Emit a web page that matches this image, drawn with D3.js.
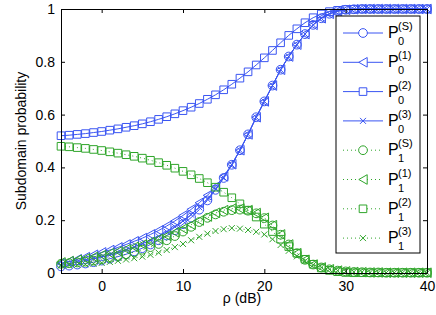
<!DOCTYPE html>
<html>
<head>
<meta charset="utf-8">
<script src="https://cdn.jsdelivr.net/npm/d3@7"></script>
<style>
  body { margin: 0; background: #fff; }
  text { font-family: "Liberation Sans", Arial, sans-serif; fill: #000; }
</style>
</head>
<body>
<svg id="chart" width="436" height="315"></svg>
<script>
// SNR values (dB)
const rho = d3.range(-5, 41, 1);

// P0 curves (blue, solid)
const p0S = [0.025,0.028,0.032,0.036,0.041,0.047,0.054,0.062,0.071,0.082,0.094,0.108,0.124,0.142,0.162,0.185,0.21,0.24,0.275,0.315,0.36,0.41,0.465,0.525,0.59,0.65,0.71,0.77,0.82,0.865,0.905,0.94,0.965,0.982,0.992,0.997,0.999,1,1,1,1,1,1,1,1,1];
const p01 = [0.036,0.044,0.052,0.06,0.069,0.078,0.087,0.097,0.108,0.12,0.132,0.146,0.161,0.178,0.197,0.218,0.241,0.266,0.294,0.327,0.366,0.412,0.465,0.525,0.59,0.65,0.71,0.77,0.82,0.865,0.905,0.94,0.965,0.982,0.992,0.997,0.999,1,1,1,1,1,1,1,1,1];
const p02 = [0.52,0.522,0.525,0.528,0.532,0.536,0.541,0.546,0.552,0.558,0.565,0.573,0.582,0.592,0.603,0.615,0.628,0.642,0.658,0.675,0.694,0.715,0.738,0.762,0.788,0.815,0.843,0.872,0.9,0.925,0.948,0.967,0.981,0.99,0.995,0.998,0.999,1,1,1,1,1,1,1,1,1];
const p03 = [0.03,0.035,0.041,0.047,0.054,0.061,0.069,0.078,0.088,0.099,0.111,0.124,0.139,0.156,0.175,0.197,0.221,0.249,0.28,0.318,0.361,0.41,0.465,0.525,0.59,0.65,0.71,0.77,0.82,0.865,0.905,0.94,0.965,0.982,0.992,0.997,0.999,1,1,1,1,1,1,1,1,1];

// P1 curves (green, dotted)
const p1S = [0.035,0.037,0.04,0.043,0.047,0.052,0.058,0.064,0.071,0.079,0.088,0.098,0.11,0.124,0.14,0.157,0.175,0.193,0.209,0.222,0.232,0.238,0.24,0.236,0.226,0.208,0.18,0.145,0.108,0.075,0.05,0.032,0.021,0.014,0.009,0.006,0.004,0.003,0.002,0.002,0.001,0.001,0.001,0.001,0.001,0.001];
const p11 = [0.04,0.045,0.05,0.055,0.061,0.068,0.075,0.082,0.09,0.099,0.108,0.118,0.129,0.141,0.154,0.168,0.183,0.199,0.214,0.228,0.238,0.244,0.244,0.238,0.227,0.209,0.181,0.146,0.108,0.075,0.05,0.032,0.021,0.014,0.009,0.006,0.004,0.003,0.002,0.002,0.001,0.001,0.001,0.001,0.001,0.001];
const p12 = [0.48,0.478,0.475,0.472,0.468,0.464,0.459,0.454,0.448,0.442,0.435,0.427,0.418,0.408,0.397,0.385,0.372,0.358,0.342,0.325,0.306,0.285,0.262,0.238,0.212,0.185,0.157,0.128,0.1,0.075,0.052,0.033,0.019,0.01,0.005,0.002,0.001,0.001,0.001,0.001,0.001,0.001,0.001,0.001,0.001,0.001];
const p13 = [0.028,0.029,0.031,0.033,0.035,0.038,0.042,0.046,0.051,0.056,0.062,0.069,0.077,0.087,0.098,0.11,0.124,0.137,0.149,0.159,0.166,0.17,0.168,0.163,0.156,0.146,0.128,0.106,0.084,0.063,0.045,0.031,0.021,0.014,0.009,0.006,0.004,0.003,0.002,0.002,0.001,0.001,0.001,0.001,0.001,0.001];

const xTicks = [0, 10, 20, 30, 40];
const yTicks = [0, 0.2, 0.4, 0.6, 0.8, 1];

const blue = "#3a55f2";
const green = "#2fa52a";

const series = [
  { sub: "0", sup: "(S)", vals: p0S, color: blue, marker: "circle", dash: null },
  { sub: "0", sup: "(1)", vals: p01, color: blue, marker: "triangle", dash: null },
  { sub: "0", sup: "(2)", vals: p02, color: blue, marker: "square", dash: null },
  { sub: "0", sup: "(3)", vals: p03, color: blue, marker: "cross", dash: null },
  { sub: "1", sup: "(S)", vals: p1S, color: green, marker: "circle", dash: "1,3" },
  { sub: "1", sup: "(1)", vals: p11, color: green, marker: "triangle", dash: "1,3" },
  { sub: "1", sup: "(2)", vals: p12, color: green, marker: "square", dash: "1,3" },
  { sub: "1", sup: "(3)", vals: p13, color: green, marker: "cross", dash: "1,3" }
];

const svg = d3.select("#chart");
const plotL = 61, plotR = 427, plotT = 9, plotB = 273;

const x = d3.scaleLinear().domain([-5, 40]).range([plotL, plotR]);
const y = d3.scaleLinear().domain([0, 1]).range([plotB, plotT]);

// markers drawn as paths centred on (0,0)
function markerPath(type) {
  if (type === "circle") return d3.symbol().type(d3.symbolCircle).size(60)();
  if (type === "square") return "M-3.8,-3.8H3.8V3.8H-3.8Z";
  if (type === "triangle") return "M-4.2,0L4.2,-4.8L4.2,4.8Z";
  return "M-3,-3L3,3M-3,3L3,-3";
}

const line = d3.line().x((d, i) => x(rho[i])).y(d => y(d));

series.forEach(s => {
  const g = svg.append("g");
  g.append("path")
    .attr("d", line(s.vals))
    .attr("fill", "none")
    .attr("stroke", s.color)
    .attr("stroke-width", 1)
    .attr("stroke-dasharray", s.dash);
  g.selectAll("path.m")
    .data(s.vals)
    .enter()
    .append("path")
    .attr("class", "m")
    .attr("d", markerPath(s.marker))
    .attr("transform", (d, i) => `translate(${x(rho[i])},${y(d)})`)
    .attr("fill", "none")
    .attr("stroke", s.color)
    .attr("stroke-width", 1);
});

// axes (MATLAB style box, inward ticks)
svg.append("g").attr("transform", `translate(0,${plotB})`)
  .call(d3.axisBottom(x).tickValues(xTicks).tickSizeInner(-4).tickSizeOuter(0).tickPadding(8).tickFormat(d3.format("d")));
svg.append("g").attr("transform", `translate(${plotL},0)`)
  .call(d3.axisLeft(y).tickValues(yTicks).tickSizeInner(-4).tickSizeOuter(0).tickPadding(6).tickFormat(d => d === 0 || d === 1 ? d : d3.format(".1f")(d)));
svg.append("g").attr("transform", `translate(0,${plotT})`)
  .call(d3.axisTop(x).tickValues(xTicks).tickSizeInner(-4).tickSizeOuter(0).tickFormat(""));
svg.append("g").attr("transform", `translate(${plotR},0)`)
  .call(d3.axisRight(y).tickValues(yTicks).tickSizeInner(-4).tickSizeOuter(0).tickFormat(""));

svg.selectAll(".domain").attr("stroke", "#000");
svg.selectAll(".tick line").attr("stroke", "#000");
svg.selectAll(".tick text").style("font-size", "14px").style("font-family", "Liberation Sans, Arial, sans-serif").attr("fill", "#000");

svg.append("text")
  .attr("x", 242)
  .attr("y", 303)
  .attr("text-anchor", "middle")
  .style("font-size", "14px")
  .text("ρ (dB)");

svg.append("text")
  .attr("transform", `translate(26,${(plotT + plotB) / 2}) rotate(-90)`)
  .attr("text-anchor", "middle")
  .style("font-size", "14px")
  .text("Subdomain probability");

// legend
const lg = svg.append("g");
lg.append("rect")
  .attr("x", 336).attr("y", 16).attr("width", 84).attr("height", 237)
  .attr("fill", "#fff").attr("stroke", "#000").attr("stroke-width", 1);

series.forEach((s, i) => {
  const cy = 33 + i * 29.3;
  lg.append("line")
    .attr("x1", 343).attr("x2", 383).attr("y1", cy).attr("y2", cy)
    .attr("stroke", s.color).attr("stroke-dasharray", s.dash);
  lg.append("path")
    .attr("d", markerPath(s.marker))
    .attr("transform", `translate(363,${cy})`)
    .attr("fill", "#fff").attr("stroke", s.color);
  const t = lg.append("text").attr("x", 388).attr("y", cy + 5).style("font-size", "16px");
  t.append("tspan").text("P");
  t.append("tspan").attr("x", 398).attr("y", cy - 3).style("font-size", "11px").text(s.sup);
  t.append("tspan").attr("x", 398).attr("y", cy + 12).style("font-size", "11px").text(s.sub);
});
</script>
</body>
</html>
